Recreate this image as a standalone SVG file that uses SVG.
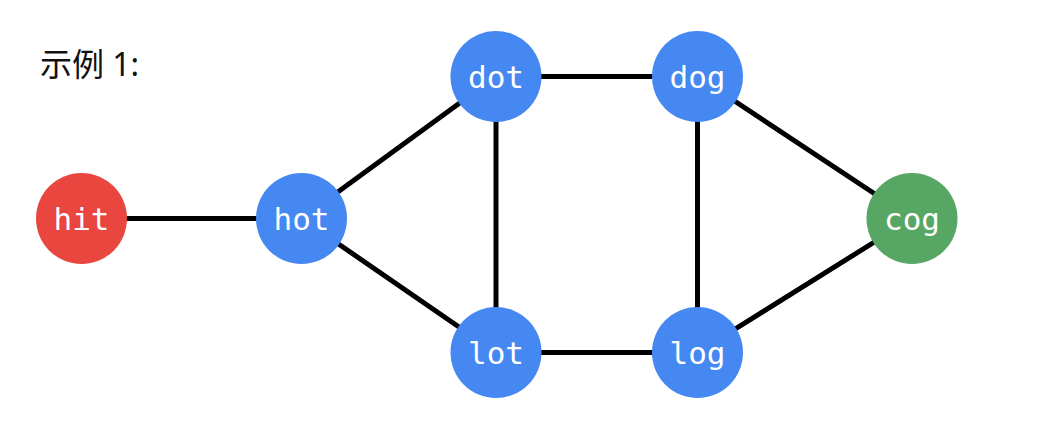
<svg xmlns="http://www.w3.org/2000/svg" width="1044" height="427" viewBox="0 0 1044 427">
<style>
.edge{stroke:#000;stroke-width:5;stroke-linecap:round}
.lbl{font-family:"DejaVu Sans Mono",monospace;font-size:31px;fill:#fff;text-anchor:middle;dominant-baseline:central}
.title{font-family:"Noto Sans","Noto Sans CJK SC",sans-serif;font-size:32px;fill:#111}
</style>
<rect width="1044" height="427" fill="#fff"/>
<text class="title" x="40" y="76">示例 1:</text>
<g id="connectors">
<line class="edge" x1="81.5" y1="218.5" x2="301.5" y2="218.5"/>
<line class="edge" x1="301.5" y1="218.5" x2="496" y2="76.5"/>
<line class="edge" x1="301.5" y1="218.5" x2="496" y2="352.5"/>
<line class="edge" x1="496" y1="76.5" x2="496" y2="352.5"/>
<line class="edge" x1="496" y1="76.5" x2="697.5" y2="76.5"/>
<line class="edge" x1="496" y1="352.5" x2="697.5" y2="352.5"/>
<line class="edge" x1="697.5" y1="76.5" x2="697.5" y2="352.5"/>
<line class="edge" x1="697.5" y1="76.5" x2="912" y2="218.5"/>
<line class="edge" x1="697.5" y1="352.5" x2="912" y2="218.5"/>
</g>
<g id="hit"><circle cx="81.5" cy="218.5" r="45.5" fill="#E8463F"/><text class="lbl" x="81.5" y="218.5">hit</text></g>
<g id="hot"><circle cx="301.5" cy="218.5" r="45.5" fill="#4688F1"/><text class="lbl" x="301.5" y="218.5">hot</text></g>
<g id="dot"><circle cx="496" cy="76.5" r="45.5" fill="#4688F1"/><text class="lbl" x="496" y="76.5">dot</text></g>
<g id="dog"><circle cx="697.5" cy="76.5" r="45.5" fill="#4688F1"/><text class="lbl" x="697.5" y="76.5">dog</text></g>
<g id="lot"><circle cx="496" cy="352.5" r="45.5" fill="#4688F1"/><text class="lbl" x="496" y="352.5">lot</text></g>
<g id="log"><circle cx="697.5" cy="352.5" r="45.5" fill="#4688F1"/><text class="lbl" x="697.5" y="352.5">log</text></g>
<g id="cog"><circle cx="912" cy="218.5" r="45.5" fill="#57A664"/><text class="lbl" x="912" y="218.5">cog</text></g>
</svg>
